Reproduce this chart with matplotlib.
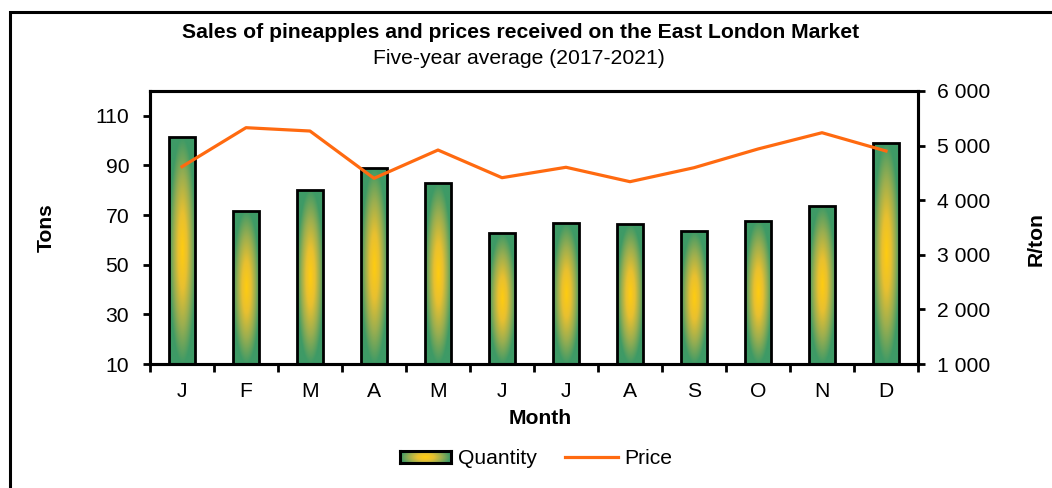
import numpy as np
import matplotlib
matplotlib.use("Agg")
import matplotlib.pyplot as plt
from matplotlib.colors import LinearSegmentedColormap
from matplotlib.lines import Line2D
from matplotlib.patches import Rectangle
from matplotlib.ticker import FuncFormatter, FixedLocator

plt.rcParams['font.family'] = ['Liberation Sans', 'DejaVu Sans']

months = ['J', 'F', 'M', 'A', 'M', 'J', 'J', 'A', 'S', 'O', 'N', 'D']
quantity = [101.4, 71.7, 80.2, 88.8, 82.9, 62.7, 66.8, 66.3, 63.4, 67.7, 73.7, 99.2]
price = [4614, 5328, 5267, 4401, 4919, 4412, 4603, 4339, 4595, 4938, 5236, 4901]

title = 'Sales of pineapples and prices received on the East London Market'
subtitle = 'Five-year average (2017-2021)'

FS = 15.2
W, H = 1052, 488
fig = plt.figure(figsize=(W / 100, H / 100), dpi=100)
ax = fig.add_axes([150 / W, 1 - 364 / H, 768 / W, 273 / H])

# gradient: yellow centre fading to green towards the edges
cmap = LinearSegmentedColormap.from_list('pine', ['#FFCC10', '#E8C030', '#9AAE50', '#3E9A66'])
u = np.linspace(-1, 1, 60)
v = np.linspace(-1, 1, 200)
uu, vv = np.meshgrid(u, v)
grad = np.clip(np.sqrt(uu ** 2 + vv ** 2), 0, 1)

x = np.arange(len(months))
bar_w = 0.41
bars = ax.bar(x, [q - 10 for q in quantity], bottom=10, width=bar_w,
              facecolor='none', edgecolor='black', linewidth=2.0, zorder=3)
for b in bars:
    x0, y0 = b.get_x(), b.get_y()
    im = ax.imshow(grad, cmap=cmap, vmin=0, vmax=1, aspect='auto',
                   extent=[x0, x0 + b.get_width(), y0, y0 + b.get_height()],
                   interpolation='bilinear', zorder=2)
    im.set_clip_path(b)

ax.set_xlim(-0.5, len(months) - 0.5)
ax.set_ylim(10, 120)
ax.set_yticks([10, 30, 50, 70, 90, 110])
ax.xaxis.set_major_locator(FixedLocator(np.arange(-0.5, len(months), 1)))
ax.xaxis.set_minor_locator(FixedLocator(x))
ax.xaxis.set_major_formatter(FuncFormatter(lambda val, pos: ''))
ax.set_xticklabels(months, minor=True)
ax.tick_params(axis='x', which='major', direction='out', length=6, width=2)
ax.tick_params(axis='x', which='minor', length=0, pad=13, labelsize=FS)
ax.tick_params(axis='y', direction='out', length=5, width=2, labelsize=FS, pad=10)
for s in ax.spines.values():
    s.set_linewidth(2.2)

ax2 = ax.twinx()
ax2.plot(x, price, color='#FF6A10', linewidth=2.3, zorder=4)
ax2.set_ylim(1000, 6000)
ax2.set_yticks(range(1000, 6001, 1000))
ax2.yaxis.set_major_formatter(FuncFormatter(lambda val, pos: f'{int(val):,}'.replace(',', ' ')))
ax2.tick_params(axis='y', direction='out', length=5, width=2, labelsize=FS, pad=9)
for s in ax2.spines.values():
    s.set_linewidth(2.2)

# titles and axis labels
fig.text(521 / W, 1 - 32 / H, title, ha='center', va='center', fontsize=FS, fontweight='bold')
fig.text(519 / W, 1 - 58 / H, subtitle, ha='center', va='center', fontsize=FS)
fig.text(46 / W, 1 - 228 / H, 'Tons', ha='center', va='center', rotation=90,
         fontsize=FS, fontweight='bold')
fig.text(1036 / W, 1 - 239 / H, 'R/ton', ha='center', va='center', rotation=90,
         fontsize=FS, fontweight='bold')
fig.text(540 / W, 1 - 418 / H, 'Month', ha='center', va='center', fontsize=FS, fontweight='bold')

# legend drawn by hand
lax = fig.add_axes([400 / W, 1 - 463 / H, 51 / W, 12 / H])
lu, lv = np.meshgrid(np.linspace(-1, 1, 80), np.linspace(-1, 1, 20))
lgrad = np.clip(np.sqrt(lu ** 2 + 0.3 * lv ** 2), 0, 1)
lax.imshow(lgrad, cmap=cmap, vmin=0, vmax=1, aspect='auto', interpolation='bilinear')
lax.set_xticks([])
lax.set_yticks([])
for s in lax.spines.values():
    s.set_linewidth(2.2)
fig.text(458 / W, 1 - 458 / H, 'Quantity', ha='left', va='center', fontsize=FS)
fig.add_artist(Line2D([565 / W, 618 / W], [1 - 457 / H, 1 - 457 / H], color='#FF6A10', linewidth=2.3))
fig.text(624 / W, 1 - 458 / H, 'Price', ha='left', va='center', fontsize=FS)

# outer frame (only top and left edges visible)
fig.add_artist(Rectangle((10 / W, -0.2), 1.2, 1.2 - 12 / H, transform=fig.transFigure,
                         fill=False, edgecolor='black', linewidth=2.2))

fig.savefig('out.png', dpi=100)
